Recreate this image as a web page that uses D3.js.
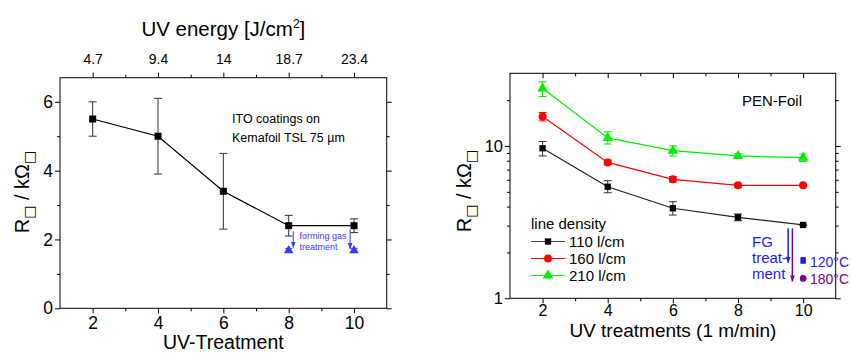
<!DOCTYPE html>
<html><head><meta charset="utf-8">
<script src="https://cdn.jsdelivr.net/npm/d3@7"></script>
<style>
html,body{margin:0;padding:0;background:#fff;}
svg{display:block;font-family:"Liberation Sans",Arial,sans-serif;}
</style></head>
<body>
<svg id="c" width="851" height="354"></svg>
<script>
// ---------- data ----------
const treatments = [2, 4, 6, 8, 10];
const energyLabels = ["4.7", "9.4", "14", "18.7", "23.4"];

// left chart: ITO on Kemafoil
const itoValues  = [5.5, 5.0, 3.4, 2.4, 2.4];
const itoErrLow  = [5.0, 3.9, 2.3, 2.1, 2.2];
const itoErrHigh = [6.0, 6.1, 4.5, 2.7, 2.6];
const fgTreat    = [8, 10];
const fgValues   = [1.68, 1.68];
const fgErrLow   = [1.62, 1.62];
const fgErrHigh  = [1.74, 1.74];
const leftArrows = [[8.14, 2.24, 1.76], [9.88, 2.29, 1.72]];

// right chart: PEN foil
const densities = ["110 l/cm", "160 l/cm", "210 l/cm"];
const r110     = [9.66, 5.4, 3.9, 3.4, 3.03];
const r110Low  = [8.6, 4.93, 3.52, 3.23, 3.0];
const r110High = [10.7, 5.92, 4.31, 3.58, 3.06];
const r160     = [15.6, 7.8, 6.04, 5.52, 5.52];
const r160Low  = [14.6, 7.55, 5.8, 5.38, 5.45];
const r160High = [16.6, 8.05, 6.3, 5.66, 5.6];
const r210     = [23.9, 11.3, 9.31, 8.6, 8.38];
const r210Low  = [21.1, 10.3, 8.6, 8.3, 7.9];
const r210High = [26.4, 12.4, 10.0, 8.9, 8.86];
const fgTemps  = ["120°C", "180°C"];
const fgRight  = [1.77, 1.35];
const fgRightLow  = [1.70, 1.35];
const fgRightHigh = [1.85, 1.35];
const rightArrows = [[9.54, 2.88, 1.71], [9.67, 2.88, 1.29]];

// ---------- drawing ----------
const svg = d3.select("#c");
svg.append("rect").attr("width", 851).attr("height", 354).attr("fill", "#fff");
const FONT = '"Liberation Sans",Arial,sans-serif';

const defs = svg.append("defs");
function arrowMarker(id, color) {
  defs.append("marker").attr("id", id).attr("viewBox", "0 0 10 10")
    .attr("refX", 10).attr("refY", 5).attr("markerWidth", 6).attr("markerHeight", 7)
    .attr("markerUnits", "userSpaceOnUse").attr("orient", "auto")
    .append("path").attr("d", "M0,1 L10,5 L0,9 z").attr("fill", color);
}
arrowMarker("arBlue", "#1a1aff");
arrowMarker("arPurple", "#800080");
arrowMarker("arBlueL", "#3a3aff");

function styleAxis(g, fs) {
  g.select(".domain").remove();
  g.selectAll("line").attr("stroke", "#000").attr("stroke-width", 1);
  g.selectAll("text").attr("font-family", FONT).attr("font-size", fs).attr("fill", "#000");
}

function errorBars(g, xs, lo, hi, x, y, color, cap) {
  xs.forEach((xv, i) => {
    const px = x(xv), y1 = y(lo[i]), y2 = y(hi[i]);
    if (Math.abs(y1 - y2) < 1) return;
    g.append("line").attr("x1", px).attr("x2", px).attr("y1", y1).attr("y2", y2)
      .attr("stroke", color).attr("stroke-width", 1);
    [y1, y2].forEach(yy => g.append("line").attr("x1", px - cap).attr("x2", px + cap)
      .attr("y1", yy).attr("y2", yy).attr("stroke", color).attr("stroke-width", 1));
  });
}

function ylabel(g, cx, cy) {
  const t = g.append("text").attr("transform", `translate(${cx},${cy}) rotate(-90)`)
    .attr("text-anchor", "middle").attr("font-family", FONT).attr("font-size", 20).attr("fill", "#000");
  t.append("tspan").text("R");
  t.append("tspan").attr("dy", 5).attr("font-size", 14).attr("font-family", "DejaVu Sans").text("□");
  t.append("tspan").attr("dy", -5).text(" / kΩ");
  t.append("tspan").attr("dy", 5).attr("font-size", 14).attr("font-family", "DejaVu Sans").text("□");
}

// ===== LEFT CHART =====
(function () {
  const x = d3.scaleLinear().domain([1, 11]).range([60, 386.7]);
  const y = d3.scaleLinear().domain([0, 6.7]).range([308.3, 77.7]);
  const g = svg.append("g");

  const bx = g.append("g").attr("transform", `translate(0,${y(0)})`)
    .call(d3.axisBottom(x).tickValues(treatments).tickSize(5).tickPadding(3));
  styleAxis(bx, 17.5);
  const bxm = g.append("g").attr("transform", `translate(0,${y(0)})`)
    .call(d3.axisBottom(x).tickValues([3, 5, 7, 9]).tickSize(3).tickFormat(""));
  styleAxis(bxm, 17);

  const tx = g.append("g").attr("transform", `translate(0,${y(6.7)})`)
    .call(d3.axisTop(x).tickValues(treatments).tickSize(5)
      .tickFormat((d, i) => energyLabels[i]).tickPadding(9));
  styleAxis(tx, 14);
  const txm = g.append("g").attr("transform", `translate(0,${y(6.7)})`)
    .call(d3.axisTop(x).tickValues([3, 5, 7, 9]).tickSize(3).tickFormat(""));
  styleAxis(txm, 13);

  const ly = g.append("g").attr("transform", `translate(${x(1)},0)`)
    .call(d3.axisLeft(y).tickValues([0, 2, 4, 6]).tickSize(5).tickPadding(2).tickFormat(d3.format("d")));
  styleAxis(ly, 17.5);
  const lym = g.append("g").attr("transform", `translate(${x(1)},0)`)
    .call(d3.axisLeft(y).tickValues([1, 3, 5]).tickSize(3).tickFormat(""));
  styleAxis(lym, 17);

  const ry = g.append("g").attr("transform", `translate(${x(11)},0)`)
    .call(d3.axisLeft(y).tickValues([0, 2, 4, 6]).tickSize(-5).tickFormat(""));
  styleAxis(ry, 17);
  const rym = g.append("g").attr("transform", `translate(${x(11)},0)`)
    .call(d3.axisLeft(y).tickValues([1, 3, 5]).tickSize(-3).tickFormat(""));
  styleAxis(rym, 17);

  g.append("rect").attr("x", x(1)).attr("y", y(6.7)).attr("width", x(11) - x(1))
    .attr("height", y(0) - y(6.7)).attr("fill", "none").attr("stroke", "#000").attr("stroke-width", 1);

  const tt = g.append("text").attr("x", (x(1) + x(11)) / 2).attr("y", 36).attr("text-anchor", "middle")
    .attr("font-family", FONT).attr("font-size", 20.5).attr("fill", "#000");
  tt.append("tspan").text("UV energy [J/cm");
  tt.append("tspan").attr("dy", -8).attr("font-size", 12).text("2");
  tt.append("tspan").attr("dy", 8).text("]");
  g.append("text").attr("x", (x(1) + x(11)) / 2).attr("y", 349).attr("text-anchor", "middle")
    .attr("font-family", FONT).attr("font-size", 19.5).attr("fill", "#000").text("UV-Treatment");
  ylabel(g, 29, 192);

  const an = g.append("text").attr("font-family", FONT).attr("font-size", 12.5).attr("fill", "#000");
  an.append("tspan").attr("x", 232).attr("y", 123).text("ITO coatings on");
  an.append("tspan").attr("x", 232).attr("y", 141.5).text("Kemafoil TSL 75 µm");

  errorBars(g, treatments, itoErrLow, itoErrHigh, x, y, "#333", 4);
  g.append("path").datum(treatments.map((d, i) => [d, itoValues[i]]))
    .attr("d", d3.line().x(d => x(d[0])).y(d => y(d[1])))
    .attr("fill", "none").attr("stroke", "#000").attr("stroke-width", 1.2);
  g.selectAll(null).data(treatments).enter().append("rect")
    .attr("x", d => x(d) - 3.5).attr("y", (d, i) => y(itoValues[i]) - 3.5)
    .attr("width", 7).attr("height", 7).attr("fill", "#000");

  const blue = "#3a3aff";
  errorBars(g, fgTreat, fgErrLow, fgErrHigh, x, y, blue, 3.5);
  g.selectAll(null).data(fgTreat).enter().append("path")
    .attr("transform", (d, i) => `translate(${x(d)},${y(fgValues[i])})`)
    .attr("d", d3.symbol().type(d3.symbolTriangle).size(40)).attr("fill", blue);
  leftArrows.forEach(a => g.append("line").attr("x1", x(a[0])).attr("x2", x(a[0]))
    .attr("y1", y(a[1])).attr("y2", y(a[2])).attr("stroke", blue).attr("stroke-width", 1)
    .attr("marker-end", "url(#arBlueL)"));
  const fg = g.append("text").attr("font-family", FONT).attr("font-size", 9).attr("fill", blue);
  fg.append("tspan").attr("x", 299.5).attr("y", 238.5).text("forming gas");
  fg.append("tspan").attr("x", 299.5).attr("y", 249.5).text("treatment");
})();

// ===== RIGHT CHART =====
(function () {
  const x = d3.scaleLinear().domain([1, 11]).range([510, 835.7]);
  const y = d3.scaleLog().domain([1, 30]).range([298.3, 73.3]);
  const g = svg.append("g");

  const minorY = [2, 3, 4, 5, 6, 7, 8, 9, 20];
  const bx = g.append("g").attr("transform", `translate(0,${y(1)})`)
    .call(d3.axisBottom(x).tickValues(treatments).tickSize(5).tickPadding(1.5));
  styleAxis(bx, 16);
  const bxm = g.append("g").attr("transform", `translate(0,${y(1)})`)
    .call(d3.axisBottom(x).tickValues([3, 5, 7, 9]).tickSize(3).tickFormat(""));
  styleAxis(bxm, 16);
  const tx = g.append("g").attr("transform", `translate(0,${y(30)})`)
    .call(d3.axisTop(x).tickValues(treatments).tickSize(-5).tickFormat(""));
  styleAxis(tx, 16);
  const txm = g.append("g").attr("transform", `translate(0,${y(30)})`)
    .call(d3.axisTop(x).tickValues([3, 5, 7, 9]).tickSize(-3).tickFormat(""));
  styleAxis(txm, 16);

  const ly = g.append("g").attr("transform", `translate(${x(1)},0)`)
    .call(d3.axisLeft(y).tickValues([1, 10]).tickSize(5).tickPadding(2).tickFormat(d3.format("d")));
  styleAxis(ly, 16.5);
  const lym = g.append("g").attr("transform", `translate(${x(1)},0)`)
    .call(d3.axisLeft(y).tickValues(minorY).tickSize(3).tickFormat(""));
  styleAxis(lym, 16);
  const ry = g.append("g").attr("transform", `translate(${x(11)},0)`)
    .call(d3.axisLeft(y).tickValues([1, 10]).tickSize(-5).tickFormat(""));
  styleAxis(ry, 16);
  const rym = g.append("g").attr("transform", `translate(${x(11)},0)`)
    .call(d3.axisLeft(y).tickValues(minorY).tickSize(-3).tickFormat(""));
  styleAxis(rym, 16);

  g.append("rect").attr("x", x(1)).attr("y", y(30)).attr("width", x(11) - x(1))
    .attr("height", y(1) - y(30)).attr("fill", "none").attr("stroke", "#000").attr("stroke-width", 1);

  g.append("text").attr("x", (x(1) + x(11)) / 2).attr("y", 337).attr("text-anchor", "middle")
    .attr("font-family", FONT).attr("font-size", 19).attr("fill", "#000").text("UV treatments (1 m/min)");
  ylabel(g, 471, 191);
  g.append("text").attr("x", 742).attr("y", 106).attr("font-family", FONT).attr("font-size", 15)
    .attr("fill", "#000").text("PEN-Foil");

  const series = [
    { name: densities[0], v: r110, lo: r110Low, hi: r110High, color: "#000", line: "#222", sym: d3.symbolSquare, size: 40 },
    { name: densities[1], v: r160, lo: r160Low, hi: r160High, color: "#ff0000", line: "#ff0000", sym: d3.symbolCircle, size: 50 },
    { name: densities[2], v: r210, lo: r210Low, hi: r210High, color: "#00ee00", line: "#00ee00", sym: d3.symbolTriangle, size: 48 }
  ];
  series.forEach(s => {
    errorBars(g, treatments, s.lo, s.hi, x, y, s.color === "#000" ? "#333" : s.color, 4);
    g.append("path").datum(treatments.map((d, i) => [d, s.v[i]]))
      .attr("d", d3.line().x(d => x(d[0])).y(d => y(d[1])))
      .attr("fill", "none").attr("stroke", s.line).attr("stroke-width", 1.2);
    g.selectAll(null).data(treatments).enter().append("path")
      .attr("transform", (d, i) => `translate(${x(d)},${y(s.v[i])})`)
      .attr("d", d3.symbol().type(s.sym).size(s.size)).attr("fill", s.color);
  });

  g.append("text").attr("x", 531).attr("y", 229).attr("font-family", FONT).attr("font-size", 15)
    .attr("fill", "#000").text("line density");
  series.forEach((s, i) => {
    const ly0 = 241.5 + i * 17;
    g.append("line").attr("x1", 531).attr("x2", 565).attr("y1", ly0).attr("y2", ly0)
      .attr("stroke", s.line === "#222" ? "#444" : s.line).attr("stroke-width", 1.2);
    g.append("path").attr("transform", `translate(548,${ly0})`)
      .attr("d", d3.symbol().type(s.sym).size(s.size)).attr("fill", s.color);
    g.append("text").attr("x", 569).attr("y", ly0 + 5.5).attr("font-family", FONT).attr("font-size", 15)
      .attr("fill", "#000").text(s.name);
  });

  const blue = "#1a1aff", purple = "#800080";
  errorBars(g, [10], [fgRightLow[0]], [fgRightHigh[0]], x, y, blue, 2.5);
  g.append("path").attr("transform", `translate(${x(10)},${y(fgRight[0])})`)
    .attr("d", d3.symbol().type(d3.symbolSquare).size(30)).attr("fill", blue);
  g.append("path").attr("transform", `translate(${x(10)},${y(fgRight[1])})`)
    .attr("d", d3.symbol().type(d3.symbolCircle).size(36)).attr("fill", purple);
  [blue, purple].forEach((c, i) => {
    const a = rightArrows[i];
    g.append("line").attr("x1", x(a[0])).attr("x2", x(a[0])).attr("y1", y(a[1])).attr("y2", y(a[2]))
      .attr("stroke", c).attr("stroke-width", 1.5)
      .attr("marker-end", i === 0 ? "url(#arBlue)" : "url(#arPurple)");
  });
  const ft = g.append("text").attr("font-family", FONT).attr("font-size", 15).attr("fill", blue);
  ft.append("tspan").attr("x", 752).attr("y", 246.5).text("FG");
  ft.append("tspan").attr("x", 752).attr("y", 263).text("treat-");
  ft.append("tspan").attr("x", 752).attr("y", 279).text("ment");
  g.append("text").attr("x", 810).attr("y", 267).attr("font-family", FONT).attr("font-size", 14)
    .attr("fill", blue).text(fgTemps[0]);
  g.append("text").attr("x", 810).attr("y", 284).attr("font-family", FONT).attr("font-size", 14)
    .attr("fill", purple).text(fgTemps[1]);
})();
</script>
</body></html>
